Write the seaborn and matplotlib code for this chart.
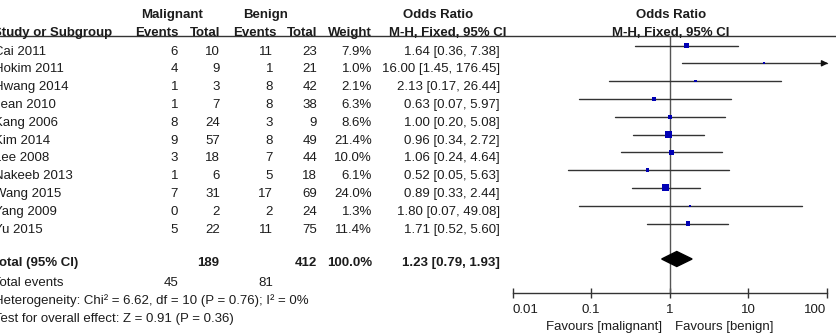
import numpy as np
import pandas as pd
import matplotlib
matplotlib.use("Agg")
import matplotlib.pyplot as plt
import seaborn as sns

# ---------------- data ----------------
studies = ["Cai 2011", "Hokim 2011", "Hwang 2014", "Jean 2010", "Kang 2006",
           "Kim 2014", "Lee 2008", "Nakeeb 2013", "Wang 2015", "Yang 2009", "Yu 2015"]
mal_events = [6, 4, 1, 1, 8, 9, 3, 1, 7, 0, 5]
mal_total = [10, 9, 3, 7, 24, 57, 18, 6, 31, 2, 22]
ben_events = [11, 1, 8, 8, 3, 8, 7, 5, 17, 2, 11]
ben_total = [23, 21, 42, 38, 9, 49, 44, 18, 69, 24, 75]
weights = [7.9, 1.0, 2.1, 6.3, 8.6, 21.4, 10.0, 6.1, 24.0, 1.3, 11.4]
or_vals = [1.64, 16.00, 2.13, 0.63, 1.00, 0.96, 1.06, 0.52, 0.89, 1.80, 1.71]
ci_low = [0.36, 1.45, 0.17, 0.07, 0.20, 0.34, 0.24, 0.05, 0.33, 0.07, 0.52]
ci_high = [7.38, 176.45, 26.44, 5.97, 5.08, 2.72, 4.64, 5.63, 2.44, 49.08, 5.60]

total_mal, total_ben = 189, 412
total_weight = 100.0
events_mal, events_ben = 45, 81
pooled_or, pooled_lo, pooled_hi = 1.23, 0.79, 1.93
heterogeneity = "Heterogeneity: Chi\u00b2 = 6.62, df = 10 (P = 0.76); I\u00b2 = 0%"
overall = "Test for overall effect: Z = 0.91 (P = 0.36)"
xticks = [0.01, 0.1, 1, 10, 100]
xtick_labels = ["0.01", "0.1", "1", "10", "100"]

# ---------------- style ----------------
sns.set_theme(style="white")
plt.rcParams["font.family"] = ["Liberation Sans", "DejaVu Sans"]
FS = 9.5
TXT = "#1c1c1c"
W, H = 836, 336

fig = plt.figure(figsize=(W / 100, H / 100), dpi=100)


def T(x, y, s, ha="left", bold=False, size=FS):
    # x, y: pixel coords, y = visual centre of capitals
    fig.text(x / W, 1 - (y + 4.6) / H, s, ha=ha, va="baseline", fontsize=size,
             fontweight="bold" if bold else "normal", color=TXT)


# header
T(172, 13, "Malignant", ha="center", bold=True)
T(266, 13, "Benign", ha="center", bold=True)
T(438, 13, "Odds Ratio", ha="center", bold=True)
T(671, 13, "Odds Ratio", ha="center", bold=True)
T(-7, 31, "Study or Subgroup", bold=True)
T(178, 31, "Events", ha="right", bold=True)
T(220, 31, "Total", ha="right", bold=True)
T(276, 31, "Events", ha="right", bold=True)
T(317, 31, "Total", ha="right", bold=True)
T(372, 31, "Weight", ha="right", bold=True)
T(448, 31, "M-H, Fixed, 95% CI", ha="center", bold=True)
T(671, 31, "M-H, Fixed, 95% CI", ha="center", bold=True)
fig.add_artist(plt.Line2D([0, 1], [1 - 36 / H, 1 - 36 / H], color="#333333", lw=1.0))

row_y = [50 + 17.8 * i for i in range(len(studies))]
for i, y in enumerate(row_y):
    T(-6.5, y, studies[i])
    T(178, y, str(mal_events[i]), ha="right")
    T(220, y, str(mal_total[i]), ha="right")
    T(273, y, str(ben_events[i]), ha="right")
    T(317, y, str(ben_total[i]), ha="right")
    T(372, y, f"{weights[i]:.1f}%", ha="right")
    T(500, y, f"{or_vals[i]:.2f} [{ci_low[i]:.2f}, {ci_high[i]:.2f}]", ha="right")

ty = 261.7
T(-7.5, ty, "Total (95% CI)", bold=True)
T(219, ty, str(total_mal), ha="right", bold=True)
T(317, ty, str(total_ben), ha="right", bold=True)
T(372, ty, f"{total_weight:.1f}%", ha="right", bold=True)
T(500, ty, f"{pooled_or:.2f} [{pooled_lo:.2f}, {pooled_hi:.2f}]", ha="right", bold=True)
T(-7, 281, "Total events")
T(178, 281, str(events_mal), ha="right")
T(273, 281, str(events_ben), ha="right")
T(-6.5, 299.5, heterogeneity)
T(-6, 317, overall)

# ---------------- forest panel ----------------
x0, x1 = 512.7, 826.7
ytop, yax = 36, 293.3
ax = fig.add_axes([x0 / W, 1 - yax / H, (x1 - x0) / W, (yax - ytop) / H])
ax.set_xscale("log")
ax.set_xlim(0.01, 100)
ax.set_ylim(yax, ytop)
ax.patch.set_alpha(0)

ax.plot([1, 1], [ytop, yax], color="#555555", lw=1.0, zorder=1)

mark_y = [y - 4.5 for y in row_y]
for i, y in enumerate(mark_y):
    hi = min(ci_high[i], 100)
    ax.plot([ci_low[i], hi], [y, y], color="#333333", lw=1.0, zorder=2, clip_on=False)
    if ci_high[i] > 100:
        ax.annotate("", xy=(100 * 1.04, y), xytext=(90, y),
                    arrowprops=dict(arrowstyle="-|>", color="#111111", lw=1.0,
                                    mutation_scale=9, shrinkA=0, shrinkB=0),
                    annotation_clip=False)

df = pd.DataFrame({"or": or_vals, "y": mark_y, "w": weights})
sns.scatterplot(data=df, x="or", y="y", size="w", sizes=(2.0, 25.5), size_norm=(1.0, 24.0),
                marker="s", color="#0000B4", linewidth=0, legend=False, ax=ax, zorder=3,
                clip_on=False)

dy = ty - 2.7
ax.fill([pooled_lo, pooled_or, pooled_hi, pooled_or], [dy, dy - 7.5, dy, dy + 7.5],
        color="black", zorder=4, clip_on=False)

for s in ["top", "left", "right"]:
    ax.spines[s].set_visible(False)
ax.spines["bottom"].set_color("#333333")
ax.spines["bottom"].set_linewidth(1.0)
ax.set_xticks(xticks)
ax.set_xticklabels(xtick_labels)
ax.xaxis.set_minor_locator(matplotlib.ticker.NullLocator())
ax.tick_params(axis="x", direction="inout", length=7, width=1.0, color="#333333",
               labelsize=FS, labelcolor=TXT, pad=4.5, bottom=True)
labels = ax.get_xticklabels()
labels[0].set_horizontalalignment("left")
labels[-1].set_horizontalalignment("right")
ax.set_yticks([])
ax.set_xlabel("")
ax.set_ylabel("")

T(662, 325.7, "Favours [malignant]", ha="right")
T(675, 325.7, "Favours [benign]", ha="left")

fig.savefig("out.png", dpi=100)
